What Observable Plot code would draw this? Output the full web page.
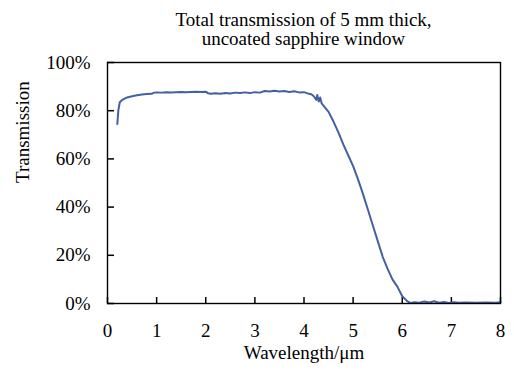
<!DOCTYPE html>
<html>
<head>
<meta charset="utf-8">
<script src="https://cdn.jsdelivr.net/npm/d3@7"></script>
<script src="https://cdn.jsdelivr.net/npm/@observablehq/plot@0.6"></script>
<style>
  html, body { margin: 0; padding: 0; background: #fff; }
  #title {
    font-family: "Liberation Serif", "Times New Roman", serif;
    font-size: 19px; line-height: 19px; color: #000;
    text-align: center; padding: 10px 14px 0 107px; height: 38px;
  }
  #chart svg text { font-family: "Liberation Serif", "Times New Roman", serif; }
</style>
</head>
<body>
<div id="title">Total transmission of 5 mm thick,<br>uncoated sapphire window</div>
<div id="chart"></div>
<script>
const titleLines = ["Total transmission of 5 mm thick,", "uncoated sapphire window"];
const xLabel = "Wavelength/μm";
const yLabel = "Transmission";
const xTicks = [0, 1, 2, 3, 4, 5, 6, 7, 8];
const yTicks = [0, 20, 40, 60, 80, 100];

const wavelength = [
  0.20, 0.22, 0.25, 0.30, 0.35, 0.40, 0.50, 0.60, 0.70, 0.80, 0.90, 0.95,
  1.00, 1.10, 1.20, 1.30, 1.40, 1.50, 1.60, 1.70, 1.80, 1.90, 2.00, 2.05,
  2.10, 2.20, 2.30, 2.40, 2.50, 2.60, 2.70, 2.80, 2.90, 3.00, 3.10, 3.20,
  3.30, 3.40, 3.50, 3.60, 3.70, 3.80, 3.90, 4.00, 4.10, 4.15, 4.20, 4.25,
  4.27, 4.30, 4.33, 4.36, 4.40, 4.50, 4.60, 4.70, 4.80, 4.90, 5.00, 5.10,
  5.20, 5.30, 5.40, 5.50, 5.60, 5.70, 5.80, 5.90, 6.00, 6.10, 6.17, 6.25,
  6.35, 6.45, 6.55, 6.65, 6.75, 6.85, 6.95, 7.05, 7.15, 7.30, 7.50, 7.70,
  7.90, 8.00
];
const transmission = [
  74.5, 80.0, 83.5, 84.5, 85.0, 85.5, 86.0, 86.4, 86.7, 86.9, 87.0, 87.5,
  87.6, 87.5, 87.7, 87.6, 87.7, 87.8, 87.7, 87.8, 87.9, 87.8, 87.9, 87.2,
  87.0, 87.2, 87.0, 87.3, 87.1, 87.5, 87.3, 87.6, 87.3, 87.7, 87.5, 88.2,
  88.0, 88.3, 88.0, 88.2, 87.8, 88.1, 87.6, 87.7, 87.0, 86.8, 86.0, 84.5,
  86.5, 83.8, 85.5, 83.0, 82.0, 79.5, 75.5, 71.0, 66.0, 61.5, 57.0, 51.5,
  45.5, 39.0, 32.5, 26.0, 19.5, 14.5, 10.0, 7.0, 3.0, 1.0, 0.2, 0.5,
  0.3, 0.8, 0.4, 0.9, 0.3, 0.6, 0.2, 0.5, 0.3, 0.4, 0.3, 0.4,
  0.3, 0.5
];

const data = wavelength.map((x, i) => ({x, y: transmission[i]}));
const font = "'Liberation Serif', 'Times New Roman', serif";

const W = 514, H = 324, mT = 14, mB = 69, mL = 107, mR = 14;

const chart = Plot.plot({
  width: W,
  height: H,
  marginTop: mT,
  marginBottom: mB,
  marginLeft: mL,
  marginRight: mR,
  style: {fontFamily: font, fontSize: "19px", color: "#000", background: "#fff"},
  x: {domain: [0, 8], ticks: xTicks},
  y: {domain: [0, 100], ticks: yTicks},
  marks: [
    Plot.axisX({ticks: xTicks, tickSize: 6, tickPadding: 20, dy: -6, tickFormat: d => String(d), label: null, fontSize: 19, fontFamily: font, stroke: "#000", strokeWidth: 1.5}),
    Plot.axisY({ticks: yTicks, tickSize: 7, tickPadding: 17, dx: 7, tickFormat: d => d + "%", label: null, fontSize: 19, fontFamily: font, stroke: "#000", strokeWidth: 1.5}),
    Plot.line(data, {x: "x", y: "y", stroke: "#44619f", strokeWidth: 2, strokeLinejoin: "round"}),
    Plot.frame({stroke: "#000", strokeWidth: 1.4}),
    Plot.text([xLabel], {frameAnchor: "bottom", dy: 55, fontSize: 19, fontFamily: font, fill: "#000"}),
    Plot.text([yLabel], {frameAnchor: "left", dx: -85, rotate: -90, fontSize: 19, fontFamily: font, fill: "#000"})
  ]
});
document.getElementById("chart").appendChild(chart);
</script>
</body>
</html>
